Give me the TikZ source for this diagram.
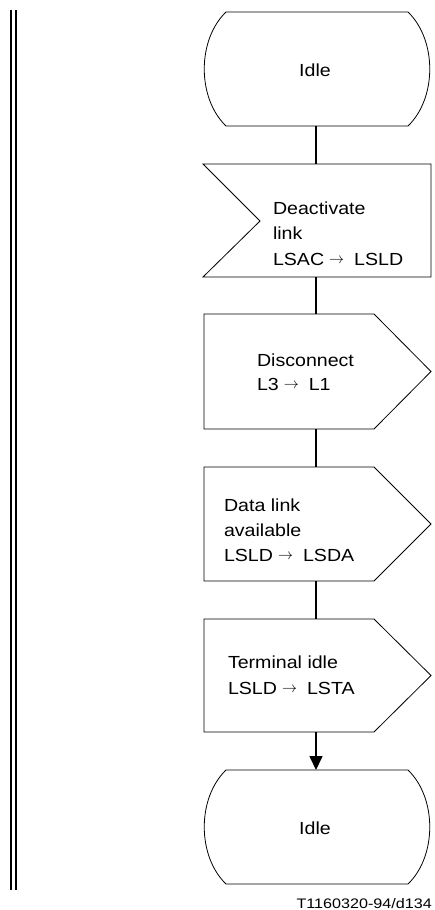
\documentclass[tikz,border=0pt]{standalone}
\usepackage{fontspec}
\setmainfont{Liberation Sans}
\newfontfamily\widefont[FakeStretch=1.12]{Liberation Sans}
\newfontfamily\labfont[FakeStretch=1.17]{Liberation Sans}
\usetikzlibrary{arrows.meta}
\newcommand{\sdlarr}{\hspace{5pt}\raisebox{1.3pt}{\scalebox{1.5}{\fontsize{10}{10}\selectfont$\rightarrow$}}\hspace{10pt}}
\begin{document}
\begin{tikzpicture}[x=1pt,y=-1pt,
  outline/.style={draw=black,line width=0.8pt,line join=miter},
  conn/.style={draw=black,line width=1.6pt},
  rail/.style={draw=black,line width=1.3pt},
  lbl/.style={anchor=base west,inner sep=0pt,outer sep=0pt,font=\widefont\fontsize{17.5}{17.5}\selectfont},
  tag/.style={anchor=base east,inner sep=0pt,font=\labfont\fontsize{13.8}{13.8}\selectfont}]
\useasboundingbox (0,0) rectangle (435,910);
% left double rail
\draw[rail] (11,10) -- (11,890);
\draw[rail] (16,10) -- (16,890);
% start state
\draw[outline] (226,12) -- (408,12) .. controls (437,40) and (437,98) .. (408,126)
  -- (226,126) .. controls (197,98) and (197,40) .. (226,12) -- cycle;
\node[lbl,anchor=base] (idleA) at (315,76) {Idle};
% input signal
\draw[outline] (203,164) -- (431,164) -- (431,277) -- (203,277) -- (260,221) -- cycle;
\node[lbl] (inA) at (273,214) {Deactivate};
\node[lbl] (inB) at (273,239) {link};
\node[lbl] (inC) at (273,265) {LSAC\sdlarr LSLD};
% output 1
\draw[outline] (204,314) -- (374,314) -- (431,371.5) -- (374,429) -- (204,429) -- cycle;
\node[lbl] (oaA) at (257,366) {Disconnect};
\node[lbl] (oaB) at (257,390) {L3\sdlarr L1};
% output 2
\draw[outline] (204,467) -- (374,467) -- (431,524) -- (374,581) -- (204,581) -- cycle;
\node[lbl] (obA) at (224,511.5) {Data link};
\node[lbl] (obB) at (224,536.5) {available};
\node[lbl] (obC) at (224,561) {LSLD\sdlarr LSDA};
% output 3
\draw[outline] (204,619) -- (374,619) -- (431,675.5) -- (374,732) -- (204,732) -- cycle;
\node[lbl] (ocA) at (228,668) {Terminal idle};
\node[lbl] (ocB) at (228,694) {LSLD\sdlarr LSTA};
% end state
\draw[outline] (226,770) -- (408,770) .. controls (437,798) and (437,856) .. (408,884)
  -- (226,884) .. controls (197,856) and (197,798) .. (226,770) -- cycle;
\node[lbl,anchor=base] (idleB) at (315,834) {Idle};
% connector ends
\coordinate (c1a) at (316,126); \coordinate (c1b) at (316,164);
\coordinate (c2a) at (316,277); \coordinate (c2b) at (316,314);
\coordinate (c3a) at (316,429); \coordinate (c3b) at (316,467);
\coordinate (c4a) at (316,581); \coordinate (c4b) at (316,619);
\coordinate (c5a) at (316,732); \coordinate (c5b) at (316,770);
\draw[conn] (c1a) -- (c1b);
\draw[conn] (c2a) -- (c2b);
\draw[conn] (c3a) -- (c3b);
\draw[conn] (c4a) -- (c4b);
\draw[conn,-{Triangle[width=13pt,length=14pt]}] (c5a) -- (c5b);
% figure tag
\node[tag] (fig) at (432,908) {T1160320-94/d134};
\end{tikzpicture}
\end{document}
